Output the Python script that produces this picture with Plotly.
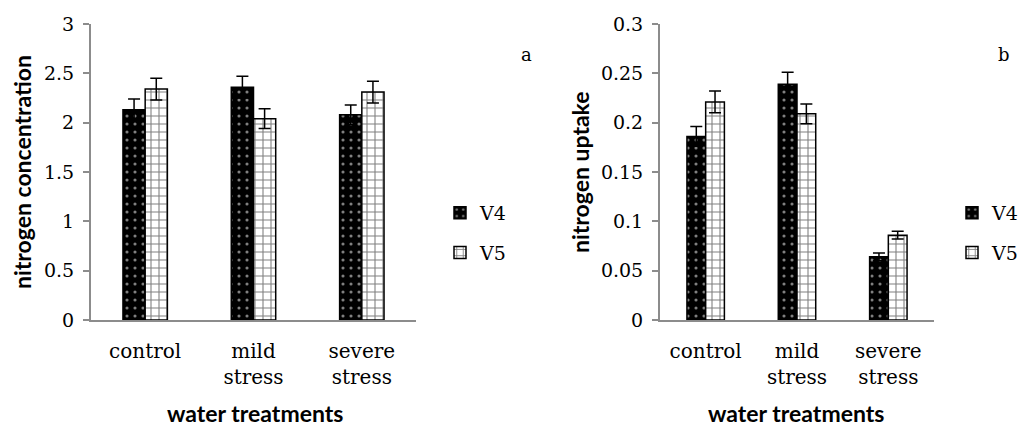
import plotly.graph_objects as go

categories = ["control", "mild<br>stress", "severe<br>stress"]
series_names = ["V4", "V5"]

conc_v4 = [2.13, 2.36, 2.08]
conc_v5 = [2.34, 2.04, 2.31]
conc_v4_err = [0.11, 0.11, 0.10]
conc_v5_err = [0.11, 0.10, 0.11]

upt_v4 = [0.186, 0.239, 0.064]
upt_v5 = [0.221, 0.209, 0.086]
upt_v4_err = [0.010, 0.012, 0.004]
upt_v5_err = [0.011, 0.010, 0.004]

SERIF = "DejaVu Serif"
SANS = "Lato"
AXIS_GRAY = "#8c8c8c"

# page body has an 8px margin; figure is sized to fit inside the window
OFF = 8
W, H = 1029 - 2 * OFF, 439 - 2 * OFF

def px(x):
    return (x - OFF) / W

def py(y):
    return (H - (y - OFF)) / H

v4_marker = dict(color="black", line=dict(color="black", width=1.5),
                 pattern=dict(shape=".", fgcolor="white", bgcolor="black",
                              size=8, solidity=0.12))
v5_marker = dict(color="white", line=dict(color="black", width=1.5),
                 pattern=dict(shape="+", fgcolor="black", bgcolor="white",
                              size=8, solidity=0.25))

def err(vals):
    return dict(type="data", array=vals, visible=True, color="black",
                thickness=1.5, width=6)

fig = go.Figure()
fig.add_trace(go.Bar(x=categories, y=conc_v4, name=series_names[0], marker=v4_marker,
                     error_y=err(conc_v4_err), xaxis="x", yaxis="y",
                     legend="legend", legendgroup="a1"))
fig.add_trace(go.Bar(x=categories, y=conc_v5, name=series_names[1], marker=v5_marker,
                     error_y=err(conc_v5_err), xaxis="x", yaxis="y",
                     legend="legend", legendgroup="a2"))
fig.add_trace(go.Bar(x=categories, y=upt_v4, name=series_names[0], marker=v4_marker,
                     error_y=err(upt_v4_err), xaxis="x2", yaxis="y2",
                     legend="legend2", legendgroup="b1"))
fig.add_trace(go.Bar(x=categories, y=upt_v5, name=series_names[1], marker=v5_marker,
                     error_y=err(upt_v5_err), xaxis="x2", yaxis="y2",
                     legend="legend2", legendgroup="b2"))

ydom = [py(320), py(24)]

xcommon = dict(type="category", range=[-0.5, 2.5], showline=True, linecolor=AXIS_GRAY,
               linewidth=2, ticks="", showgrid=False, zeroline=False, automargin=False,
               tickfont=dict(family=SERIF, size=20, color="black"),
               ticklabelstandoff=12)
ycommon = dict(showline=True, linecolor=AXIS_GRAY, linewidth=2, ticks="outside",
               ticklen=6, tickcolor=AXIS_GRAY, tickwidth=1.5, showgrid=False,
               zeroline=False, automargin=False,
               tickfont=dict(family=SERIF, size=19, color="black"),
               ticklabelstandoff=5, domain=ydom)

legend_common = dict(xanchor="left", yanchor="middle", y=py(233),
                     xref="container", yref="container",
                     font=dict(family=SERIF, size=19, color="black"),
                     bgcolor="rgba(0,0,0,0)", itemwidth=30, tracegroupgap=12,
                     traceorder="grouped")

fig.update_layout(
    width=W, height=H,
    margin=dict(l=0, r=0, t=0, b=0, autoexpand=False),
    paper_bgcolor="white", plot_bgcolor="white",
    barmode="group", bargap=0.59, bargroupgap=0,
    xaxis=dict(domain=[px(91), px(416)], anchor="y", **xcommon),
    yaxis=dict(range=[0, 3], dtick=0.5, anchor="x", **ycommon),
    xaxis2=dict(domain=[px(660), px(934)], anchor="y2", **xcommon),
    yaxis2=dict(range=[0, 0.3], dtick=0.05, anchor="x2", **ycommon),
    legend=dict(x=px(440), **legend_common),
    legend2=dict(x=px(952), **legend_common),
    showlegend=True,
)

ann = [
    dict(text="nitrogen concentration", x=px(22), y=py(172), textangle=-90, size=23),
    dict(text="nitrogen uptake", x=px(580), y=py(172), textangle=-90, size=23),
    dict(text="water treatments", x=px(255), y=py(413), textangle=0, size=23),
    dict(text="water treatments", x=px(796), y=py(413), textangle=0, size=23),
]
for a in ann:
    size = a.pop("size")
    fig.add_annotation(xref="paper", yref="paper", showarrow=False,
                       xanchor="center", yanchor="middle",
                       font=dict(family=SANS, size=size, color="black", weight="bold"), **a)

fig.add_annotation(text="a", xref="paper", yref="paper", x=px(526), y=py(42),
                   showarrow=False, font=dict(family=SERIF, size=18, color="black"))
fig.add_annotation(text="b", xref="paper", yref="paper", x=px(1012), y=py(42),
                   showarrow=False, font=dict(family=SERIF, size=18, color="black"))

fig.write_html("out.html")
